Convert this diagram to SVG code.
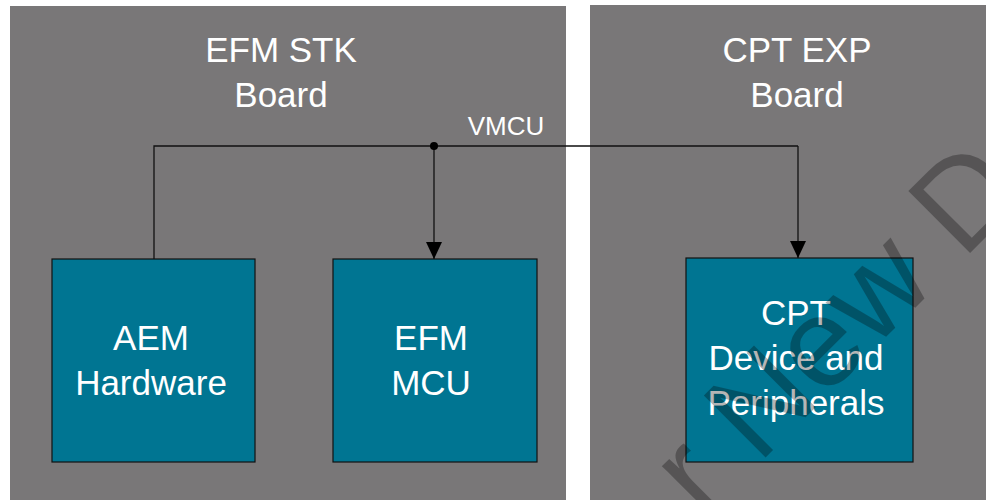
<svg xmlns="http://www.w3.org/2000/svg" width="986" height="500" viewBox="0 0 986 500">
<defs>
<style>
.panel{fill:#797778}
.box{fill:#007592;stroke:#111;stroke-width:1.2}
.t{font-family:"Liberation Sans",Arial,sans-serif;fill:#fff;text-anchor:middle}
.title{font-size:35px}
.lbl{font-size:35px}
.wire{fill:none;stroke:#111;stroke-width:1.3}
.wm{font-family:"Liberation Sans",Arial,sans-serif;font-size:127px;fill:#000;fill-opacity:0.29}
</style>
<marker id="arr" viewBox="0 0 17 16" refX="17" refY="8" markerWidth="17" markerHeight="16" markerUnits="userSpaceOnUse" orient="auto">
<path d="M0,0 L17,8 L0,16 Z" fill="#000"/>
</marker>
</defs>
<rect width="986" height="500" fill="#fff"/>
<g id="efm-stk-board">
<rect class="panel" x="10" y="6" width="556" height="500"/>
<text class="t title" x="281" y="62">EFM STK</text>
<text class="t title" x="281" y="107">Board</text>
</g>
<g id="cpt-exp-board">
<rect class="panel" x="590" y="5" width="400" height="500"/>
<text class="t title" x="797" y="62">CPT EXP</text>
<text class="t title" x="797" y="107">Board</text>
</g>
<g id="aem-hardware">
<rect class="box" x="52" y="259" width="203" height="203"/>
<text class="t lbl" x="151" y="350">AEM</text>
<text class="t lbl" x="151" y="395">Hardware</text>
</g>
<g id="efm-mcu">
<rect class="box" x="333" y="259" width="204" height="203"/>
<text class="t lbl" x="431" y="350">EFM</text>
<text class="t lbl" x="431" y="395">MCU</text>
</g>
<g id="cpt-device">
<rect class="box" x="686" y="258" width="227" height="204"/>
<text class="t lbl" x="796" y="325">CPT</text>
<text class="t lbl" x="796" y="370">Device and</text>
<text class="t lbl" x="796" y="415">Peripherals</text>
</g>
<g id="connectors">
<polyline class="wire" points="154,259 154,146 798,146"/>
<line class="wire" x1="434" y1="146" x2="434" y2="259" marker-end="url(#arr)"/>
<line class="wire" x1="798" y1="146" x2="798" y2="258" marker-end="url(#arr)"/>
<circle cx="434" cy="146" r="4" fill="#000"/>
<text class="t" x="506" y="135" style="font-size:26px">VMCU</text>
</g>
<g id="watermark">
<text class="wm" transform="translate(733,490) rotate(-45)" x="-42">r New De</text>
</g>
</svg>
